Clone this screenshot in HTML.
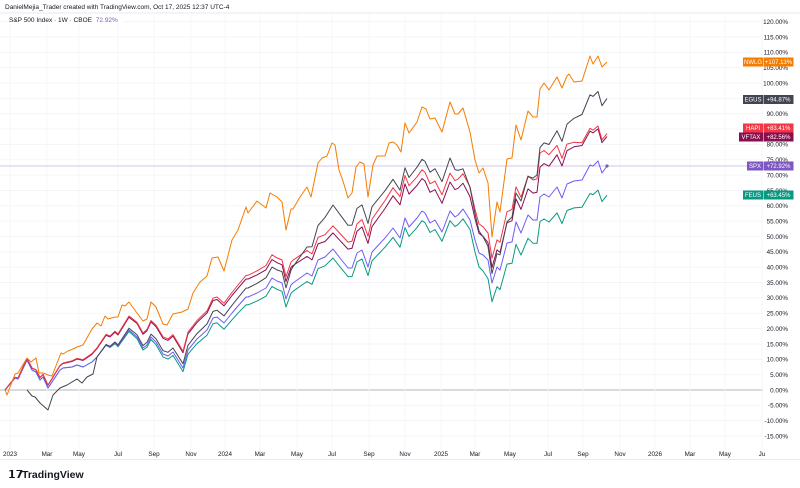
<!DOCTYPE html>
<html><head><meta charset="utf-8"><style>
body{margin:0;background:#fff;width:800px;height:488px;overflow:hidden;font-family:"Liberation Sans",sans-serif}
svg{position:absolute;left:0;top:0}
</style></head><body>
<svg id="s" width="800" height="488" xmlns="http://www.w3.org/2000/svg" font-family="Liberation Sans, sans-serif">
<g id="grid"></g><g id="lines"></g><g id="labels"></g>
<rect x="0" y="0" width="760" height="13" fill="#fff"/>
<text x="5" y="9" font-size="6.5" fill="#131722">DanielMejia_Trader created with TradingView.com, Oct 17, 2025 12:37 UTC-4</text>
<line x1="0" y1="13" x2="800" y2="13" stroke="#e0e3eb" stroke-width="0.8"/>
<rect x="8" y="15" width="115" height="9" fill="#fff"/>
<text x="9" y="22" font-size="6.5" fill="#131722">S&amp;P 500 Index · 1W · CBOE <tspan fill="#7e57c2" dx="2">72.92%</tspan></text>
<line x1="0" y1="459.5" x2="800" y2="459.5" stroke="#e0e3eb" stroke-width="0.8"/>
<text x="8" y="478" font-size="11" font-weight="bold" fill="#131722">𝟭𝟳</text>
<text x="22" y="478" font-size="10.5" font-weight="bold" fill="#131722">TradingView</text>
</svg>
<script>
var NS="http://www.w3.org/2000/svg";
function el(p,t,a,txt){var e=document.createElementNS(NS,t);for(var k in a)e.setAttribute(k,a[k]);if(txt!==undefined)e.textContent=txt;p.appendChild(e);return e;}
var g=document.getElementById('grid'),L=document.getElementById('lines'),Lb=document.getElementById('labels');
function Y(p){return 390-p*3.07;}
for(var p=120;p>=-15;p-=5){var y=Y(p);el(g,'line',{x1:0,y1:y,x2:763,y2:y,stroke:p==0?'#b2b5be':'#f0f3fa','stroke-width':p==0?1:0.8});
el(Lb,'text',{x:788,y:y+2.3,'font-size':6.3,'text-anchor':'end',fill:'#131722'},p.toFixed(2)+'%');}
var xt=[[10,'2023'],[47,'Mar'],[79,'May'],[118,'Jul'],[154,'Sep'],[191,'Nov'],[225,'2024'],[260,'Mar'],[297,'May'],[332,'Jul'],[369,'Sep'],[405,'Nov'],[441,'2025'],[475,'Mar'],[510,'May'],[548,'Jul'],[583,'Sep'],[620,'Nov'],[655,'2026'],[690,'Mar'],[725,'May'],[762,'Ju']];
xt.forEach(function(t){el(g,'line',{x1:t[0],y1:14,x2:t[0],y2:459,stroke:'#f3f5fa','stroke-width':0.8});
el(Lb,'text',{x:t[0],y:456,'font-size':6.3,'text-anchor':'middle',fill:'#131722'},t[1]);});
el(g,'line',{x1:0,y1:166,x2:763,y2:166,stroke:'#d1c4e9','stroke-width':1});
var spx=[[5,390],[15,378],[18,379],[27,360],[32,370],[36,372],[40,380],[43,377],[48,388],[60,370],[63,368],[72,367],[77,365],[83,367],[92,362],[97,357],[106,345],[110,347],[115,343],[118,346],[129,330],[137,337],[143,348],[147,345],[151,337],[156,342],[163,354],[168,356],[173,352],[183,368],[188,350],[197,339],[207,330],[213,318],[217,317],[224,323],[232,313],[238,306],[246,297],[248,297],[257,293],[266,288],[272,278],[277,281],[282,283],[286,299],[291,285],[293,283],[307,273],[312,276],[318,260],[325,257],[333,249],[340,258],[348,268],[352,268],[357,253],[362,250],[368,267],[372,252],[385,238],[393,228],[400,238],[405,218],[409,227],[417,218],[422,211],[425,213],[430,223],[435,220],[442,232],[450,211],[455,217],[458,215],[463,209],[470,220],[475,240],[479,253],[483,255],[488,260],[492,283],[497,267],[500,270],[507,243],[512,242],[516,222],[521,233],[528,215],[533,220],[537,220],[540,197],[544,194],[549,197],[557,187],[562,198],[567,184],[574,181],[582,180],[590,165],[593,166],[598,161],[602,173],[607,166]];
var org=[[5,390],[7,395],[15,374],[18,373],[27,358],[31,362],[36,358],[39,373],[43,373],[48,375],[52,376],[61,353],[63,354],[68,351],[73,349],[77,347],[83,345],[92,329],[97,323],[101,326],[105,316],[108,319],[115,317],[118,317],[122,305],[125,306],[129,302],[137,313],[143,321],[147,319],[151,302],[156,307],[163,324],[167,325],[173,314],[182,312],[188,309],[193,293],[200,282],[207,276],[212,258],[218,257],[224,271],[232,240],[238,230],[246,207],[248,213],[257,201],[266,208],[270,193],[277,197],[282,202],[286,230],[291,209],[293,209],[300,197],[307,187],[311,197],[318,163],[322,158],[327,156],[332,143],[335,145],[339,170],[343,181],[348,198],[352,193],[356,167],[360,162],[364,164],[368,197],[373,165],[377,156],[385,156],[389,143],[393,142],[397,145],[401,152],[405,123],[409,133],[417,122],[422,107],[426,109],[430,119],[435,118],[442,132],[450,102],[455,114],[458,114],[463,108],[470,132],[475,160],[479,173],[483,168],[488,183],[492,237],[497,202],[500,212],[507,159],[512,158],[516,125],[521,140],[528,111],[533,117],[537,117],[540,89],[544,83],[549,90],[557,77],[562,88],[567,76],[569,74],[574,82],[582,81],[590,56],[593,64],[598,56],[602,67],[607,62]];
function interp(tab,x){if(x<=tab[0][0])return tab[0][1];for(var i=1;i<tab.length;i++){if(x<=tab[i][0]){var a=tab[i-1],b=tab[i];return a[1]+(b[1]-a[1])*(x-a[0])/(b[0]-a[0]);}}return tab[tab.length-1][1];}
function derive(fac,start){return spx.filter(function(p){return p[0]>=(start||0)}).map(function(p){var S=(390-p[1])/307+1;var d=S*interp(fac,p[0]);return [p[0],390-(d-1)*307];});}
var fFE=[[5,1],[100,1],[250,0.98],[470,0.98],[490,0.955],[607,0.945]];
var fRED=[[5,1],[48,1.01],[163,1.05],[286,1.056],[330,1.05],[400,1.09],[450,1.078],[492,1.06],[540,1.088],[590,1.069],[607,1.061]];
var fMR=[[5,1],[200,0.995],[330,0.985],[450,0.983],[540,0.974],[580,0.995],[607,0.995]];
var fGR=[[97,1],[163,1.01],[286,1.028],[330,1.098],[450,1.109],[492,1.023],[540,1.099],[590,1.132],[607,1.127]];
var feus=derive(fFE);
var red=derive(fRED);
var mar=red.map(function(p){var S=(390-p[1])/307+1;return [p[0],390-(S*interp(fMR,p[0])-1)*307];});
var gray=[[27,390],[32,396],[35,397],[40,403],[48,410],[53,395],[60,388],[67,385],[77,379],[82,383],[87,377],[93,374]].concat(derive(fGR,97));
function pl(pts,c,w){el(L,'polyline',{points:pts.map(function(p){return p[0].toFixed(1)+','+p[1].toFixed(1)}).join(' '),fill:'none',stroke:c,'stroke-width':w||1,'stroke-linejoin':'round'});}
pl(feus,'#089981');pl(spx,'#6e5cf6');pl(mar,'#880e4f');pl(red,'#f23645');pl(gray,'#434651');pl(org,'#f57c00');
el(L,'circle',{cx:607,cy:166,r:1.6,fill:'#7e57c2'});
var labs=[[62,'NWLG','+107.13%','#f57c00'],[99.5,'EGUS','+94.87%','#434651'],[128,'HAPI','+83.41%','#f23645'],[137,'VFTAX','+82.56%','#880e4f'],[166,'SPX','+72.92%','#7e57c2'],[195,'FEUS','+63.45%','#089981']];
labs.forEach(function(l){var w=l[1].length*4+4;el(Lb,'rect',{x:763-w,y:l[0]-4.5,width:w,height:9,fill:l[3]});
el(Lb,'text',{x:763-w/2,y:l[0]+2.2,'font-size':6,'text-anchor':'middle',fill:'#fff'},l[1]);
el(Lb,'rect',{x:763.5,y:l[0]-4.5,width:30,height:9,fill:l[3]});
el(Lb,'text',{x:778.5,y:l[0]+2.2,'font-size':6,'text-anchor':'middle',fill:'#fff'},l[2]);});
</script>
</body></html>
